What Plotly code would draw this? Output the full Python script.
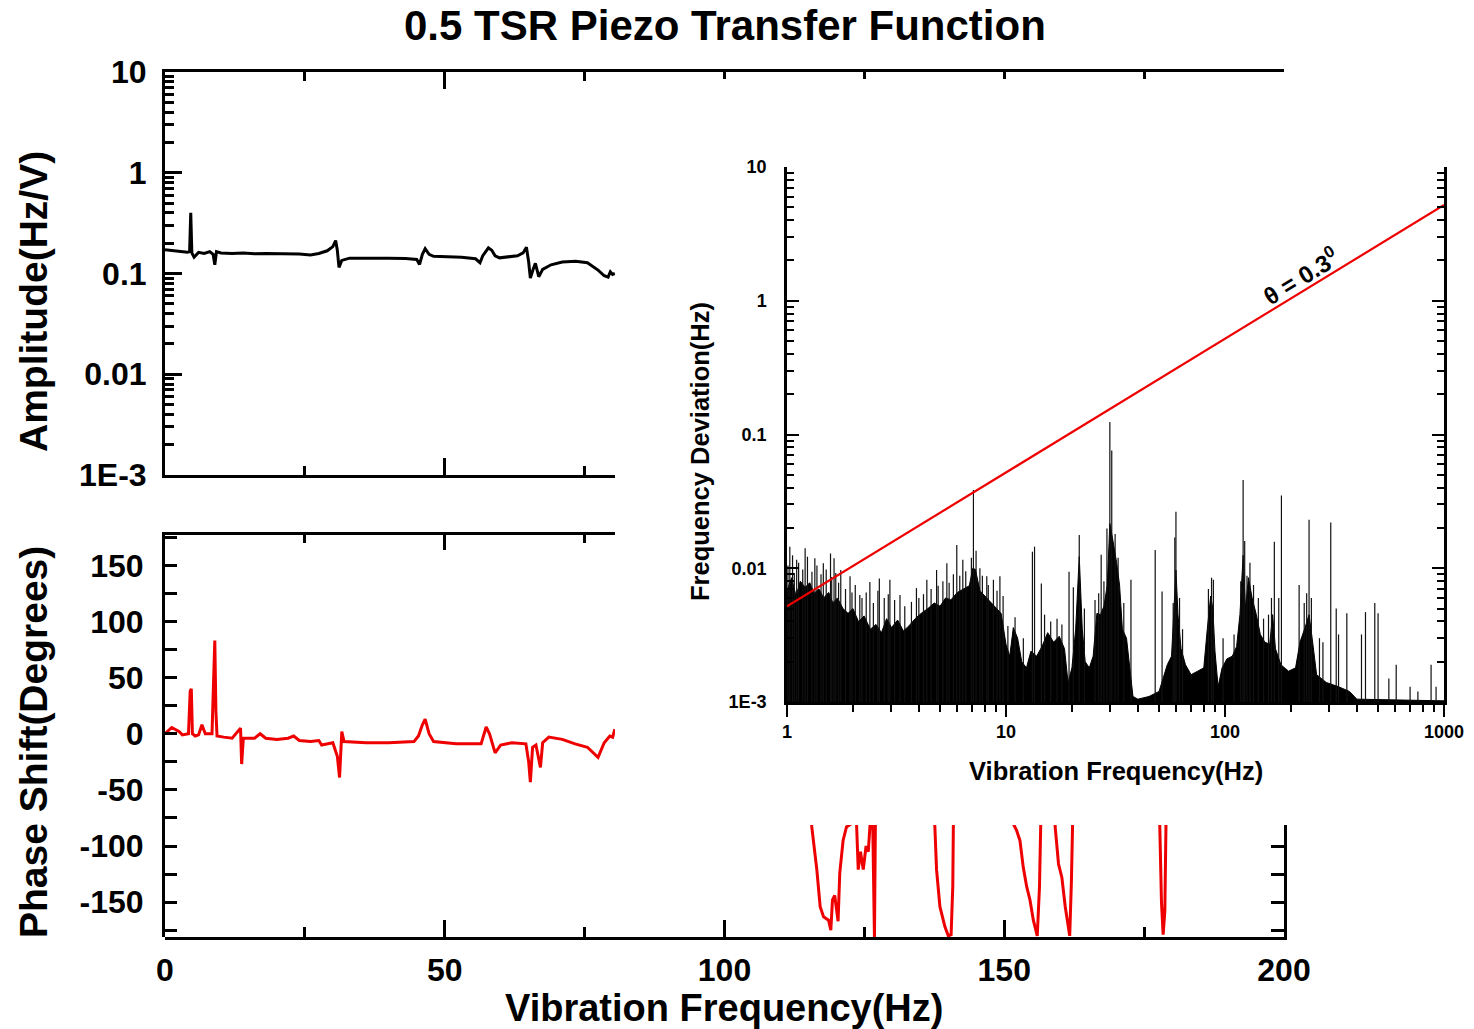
import plotly.graph_objects as go

# ---------------- data ----------------
# Amplitude of the piezo transfer function (Hz/V) vs vibration frequency (Hz)
amp_freq = [0.0, 1.0, 2.0, 3.0, 4.0, 4.4, 4.6, 4.8, 5.2, 6.0, 7.0, 8.0, 8.6, 8.9, 9.2,
            10.0, 12.0, 14.0, 16.0, 18.0, 20.0, 22.0, 24.0, 26.0, 27.5, 29.0, 30.0,
            30.5, 30.8, 31.1, 31.6, 33.0, 36.0, 40.0, 43.0, 45.0, 45.5, 46.0, 46.5,
            47.2, 48.0, 50.0, 53.0, 55.5, 56.3, 56.8, 57.8, 58.4, 59.0, 59.8, 61.0,
            63.0, 64.0, 64.6, 65.0, 65.3, 65.8, 66.2, 66.8, 67.5, 69.0, 71.0, 73.4,
            75.5, 77.4, 78.5, 79.2, 79.6, 80.0, 80.4]
amp_value = [0.172, 0.170, 0.166, 0.165, 0.163, 0.165, 0.40, 0.16, 0.145, 0.162, 0.158,
             0.165, 0.155, 0.122, 0.165, 0.160, 0.158, 0.160, 0.157, 0.158, 0.157,
             0.158, 0.156, 0.153, 0.158, 0.168, 0.185, 0.212, 0.170, 0.115, 0.135,
             0.142, 0.143, 0.142, 0.141, 0.138, 0.123, 0.155, 0.176, 0.155, 0.148,
             0.146, 0.145, 0.140, 0.128, 0.150, 0.180, 0.170, 0.150, 0.143, 0.145,
             0.150, 0.160, 0.182, 0.130, 0.090, 0.110, 0.126, 0.093, 0.110, 0.122,
             0.130, 0.132, 0.128, 0.108, 0.095, 0.092, 0.104, 0.098, 0.100]

# Phase shift (degrees), low-frequency part
phase_freq = [0.0, 1.2, 2.5, 3.1, 4.2, 4.5, 4.7, 4.9, 5.4, 6.0, 6.6, 7.2, 8.4, 8.7, 8.9,
              9.1, 9.3, 10.5, 12.0, 13.5, 13.7, 14.0, 16.0, 17.0, 18.0, 20.0, 22.0,
              23.0, 24.0, 26.0, 27.5, 28.0, 30.0, 30.8, 31.2, 31.6, 32.0, 36.0, 40.0,
              44.5, 45.3, 46.0, 46.5, 47.2, 48.0, 52.0, 56.5, 57.4, 58.0, 59.0, 60.0,
              62.0, 64.5, 65.0, 65.3, 65.7, 66.3, 67.1, 67.5, 68.6, 71.0, 73.3, 75.5,
              77.4, 78.5, 79.5, 80.0, 80.4]
phase_deg = [0, 5.6, 2, -1, 0, 38, 40, 0, -2, -1, 8, 0, 0, 60, 83,
             20, -2, -3, -4, 5, -27, -4, -4, 0, -4, -5, -4,
             -2, -6, -7, -6, -10, -8, -20, -39, 2, -7, -8, -8,
             -7, -2, 8, 13, 0, -7, -9, -9, 6, 0, -17, -10,
             -8, -9, -25, -43, -12, -10, -30, -8, -3, -5, -9, -12,
             -21, -8, -2, -3, 4]

# Phase shift (degrees), high-frequency excursions (segments separated by gaps)
phase_hf_freq = [115.3, 115.6, 116.5, 117.1, 117.7, 118.6, 119.0, 119.3, 119.7, 120.1,
                 120.3, 120.6, 121.2, 121.8, 122.7, 123.6, 123.9, 124.3, 124.8, 125.3,
                 125.7, 126.0, 126.5, 126.8, 127.0, None,
                 137.3, 137.6, 137.9, 138.5, 139.4, 140.0, 140.5, 140.8, 140.9, 141.0, None,
                 150.0, 150.4, 151.6, 152.2, 152.8, 153.4, 154.0, 154.6, 155.2, 155.5,
                 155.9, 156.3, 156.5, 156.6, None,
                 158.9, 159.1, 159.7, 160.3, 160.9, 161.3, 161.7, 162.0, 162.2, 162.3, None,
                 177.7, 177.8, 178.1, 178.4, 178.7, 178.9, 178.9]
phase_hf_deg = [-60, -83, -121, -154, -163, -166, -175, -148, -144, -162,
                -167, -124, -95, -83, -80, -80, -121, -105, -121, -100,
                -105, -82, -82, -181, -60, None,
                -60, -83, -121, -154, -172, -180, -179, -136, -83, -60, None,
                -60, -78, -80, -86, -95, -119, -136, -148, -166, -172,
                -180, -136, -83, -60, None,
                -60, -83, -116, -128, -154, -166, -180, -132, -83, -60, None,
                -60, -83, -150, -179, -158, -83, -60]

# Frequency deviation spectrum: dense noise floor (upper edge) ...
noise_freq = [1.00, 1.05, 1.10, 1.15, 1.21, 1.27, 1.33, 1.40, 1.47, 1.55, 1.62, 1.70,
              1.80, 1.90, 2.00, 2.12, 2.25, 2.40, 2.55, 2.70, 2.85, 3.00, 3.20, 3.40,
              3.60, 3.85, 4.10, 4.40, 4.70, 5.00, 5.30, 5.60, 6.00, 6.40, 6.80, 7.05,
              7.25, 7.6, 8.0, 8.5, 9.0, 9.5, 10.0, 10.4, 10.8, 11.3, 11.8, 12.4, 13.0,
              13.8, 14.6, 15.5, 16.5, 17.5, 18.5, 19.2, 20.0, 20.8, 21.6, 22.3, 23.0,
              24.0, 25.0, 26.0, 27.0, 28.0, 29.0, 29.8, 30.8, 32.0, 33.0, 34.0, 35.5,
              37.0, 38.0, 40.0, 45.0, 50.0, 52.0, 54.5, 57.0, 58.5, 59.7, 61.0, 63.0,
              66.0, 70.0, 75.0, 80.0, 83.0, 86.0, 88.0, 90.0, 93.0, 97.0, 102.0,
              108.0, 113.0, 117.0, 121.0, 124.0, 128.0, 133.0, 139.0, 145.0, 152.0,
              160.0, 165.0, 170.0, 180.0, 195.0, 210.0, 220.0, 232.0, 242.0, 250.0,
              262.0, 290.0, 330.0, 370.0, 400.0, 1000.0]
noise_level = [0.0068, 0.0085, 0.0062, 0.0080, 0.0072, 0.0078, 0.0065, 0.0070, 0.0060,
               0.0066, 0.0055, 0.0060, 0.0050, 0.0046, 0.0050, 0.0040, 0.0044, 0.0035,
               0.0038, 0.0033, 0.0042, 0.0036, 0.0041, 0.0034, 0.0037, 0.0042, 0.0046,
               0.0050, 0.0055, 0.0052, 0.0060, 0.0058, 0.0066, 0.0070, 0.0074, 0.0100,
               0.0098, 0.0068, 0.0062, 0.0056, 0.0050, 0.0046, 0.0027, 0.0022, 0.0036,
               0.0030, 0.0020, 0.0018, 0.0024, 0.0022, 0.0026, 0.0033, 0.0028, 0.0031,
               0.0025, 0.0014, 0.0018, 0.0035, 0.0122, 0.0035, 0.0020, 0.0018, 0.0022,
               0.0046, 0.0045, 0.0052, 0.0075, 0.0216, 0.0160, 0.0110, 0.0075, 0.0035,
               0.0030, 0.0016, 0.0011, 0.00105, 0.0011, 0.0012, 0.0015, 0.0019, 0.0022,
               0.0045, 0.0097, 0.0045, 0.0025, 0.0019, 0.0016, 0.0017, 0.0018, 0.0035,
               0.0062, 0.0050, 0.0024, 0.0013, 0.0018, 0.0021, 0.0022, 0.0026, 0.0045,
               0.0125, 0.0050, 0.0085, 0.0060, 0.0045, 0.0032, 0.0028, 0.0027, 0.0045,
               0.0025, 0.0019, 0.0017, 0.0018, 0.0028, 0.0036, 0.0045, 0.0030, 0.0016,
               0.0014, 0.0013, 0.0012, 0.00105, 0.00102]

# ... and individual spectral lines rising above it
spike_freq = [1.01, 1.03, 1.06, 1.08, 1.107, 1.13, 1.18, 1.21, 1.24, 1.30, 1.34, 1.37,
              1.43, 1.465, 1.51, 1.58, 1.60, 1.64, 1.67, 1.72, 1.76, 1.85, 1.94, 1.98,
              2.05, 2.15, 2.20, 2.30, 2.39, 2.48, 2.60, 2.64, 2.78, 2.90, 2.95, 3.10,
              3.28, 3.45, 3.70, 3.9, 4.00, 4.20, 4.35, 4.55, 4.82, 4.90, 5.15, 5.37,
              5.50, 5.75, 5.96, 6.15, 6.35, 6.55, 6.95, 7.1, 7.3, 7.6, 7.8, 8.17, 8.3,
              8.76, 9.1, 9.38, 9.7, 10.2, 11.0, 12.0, 13.2, 13.5, 14.5, 15.0, 16.0,
              17.1, 18.0, 19.4, 20.3, 21.6, 22.8, 25.5, 26.5, 27.2, 28.0, 28.9, 29.8,
              30.4, 31.5, 32.5, 34.5, 37.2, 48.0, 51.6, 58.0, 59.0, 59.7, 62.0, 64.0,
              84.0, 86.8, 88.5, 98.0, 110.0, 118.0, 121.0, 123.0, 126.0, 130.0, 135.0,
              142.0, 150.0, 158.0, 163.0, 168.0, 176.0, 181.0, 218.0, 230.0, 236.0,
              242.0, 248.0, 270.0, 280.0, 304.0, 322.0, 330.0, 360.0, 420.0, 438.0,
              483.0, 500.0, 560.0, 605.0, 700.0, 760.0, 873.0, 920.0]
spike_level = [0.0105, 0.0145, 0.0125, 0.0092, 0.0116, 0.0110, 0.0098, 0.0141, 0.0122,
               0.0094, 0.0119, 0.0105, 0.0090, 0.0109, 0.0098, 0.0129, 0.0086, 0.0119,
               0.0092, 0.0078, 0.0097, 0.0070, 0.0087, 0.0066, 0.0075, 0.0063, 0.0060,
               0.0066, 0.0079, 0.0055, 0.0068, 0.0084, 0.0060, 0.0064, 0.0082, 0.0058,
               0.0063, 0.0052, 0.0056, 0.0071, 0.0060, 0.0064, 0.0082, 0.0070, 0.0097,
               0.0074, 0.0080, 0.0109, 0.0078, 0.0090, 0.0149, 0.0088, 0.0116, 0.0095,
               0.0120, 0.0385, 0.0135, 0.0100, 0.0088, 0.0087, 0.0075, 0.0082, 0.0068,
               0.0087, 0.0062, 0.0037, 0.0043, 0.0030, 0.0133, 0.0145, 0.0077, 0.0045,
               0.0040, 0.0042, 0.0038, 0.0094, 0.0072, 0.0177, 0.0050, 0.0058, 0.0065,
               0.0126, 0.0080, 0.0198, 0.124, 0.076, 0.0180, 0.0120, 0.0055, 0.0082,
               0.0137, 0.0067, 0.0055, 0.0170, 0.0265, 0.0060, 0.0035, 0.0070, 0.0085,
               0.0082, 0.0030, 0.0032, 0.0080, 0.0456, 0.0160, 0.0088, 0.0110, 0.0075,
               0.0060, 0.0042, 0.0045, 0.0060, 0.0158, 0.0060, 0.0350, 0.0075, 0.0055,
               0.0065, 0.0230, 0.0060, 0.0030, 0.0028, 0.0220, 0.0050, 0.0032, 0.0046,
               0.0032, 0.0047, 0.0055, 0.0046, 0.0015, 0.0019, 0.0013, 0.0012, 0.0019,
               0.0013]

# theta = 0.3 degree limit line
limit_freq = [1, 1000]
limit_dev = [0.0052, 5.2]

amp_ticks = [0.001, 0.01, 0.1, 1, 10]
amp_ticktext = ["1E-3", "0.01", "0.1", "1", "10"]
dev_ticktext = ["1E-3", "0.01", "0.1", "1", "10"]
freq_ticks = [0, 50, 100, 150, 200]
freq_ticktext = ["0", "50", "100", "150", "200"]
phase_ticks = [-150, -100, -50, 0, 50, 100, 150]
phase_ticktext = ["-150", "-100", "-50", "0", "50", "100", "150"]
inset_freq_ticks = [1, 10, 100, 1000]
inset_freq_ticktext = ["1", "10", "100", "1000"]

# ---------------- layout helpers ----------------
W, H = 1474, 1029


def fx(p):
    return p / W


def fy(p):
    return 1 - p / H


X0, X1 = 165, 1284          # main frequency axis, 0 .. 200 Hz
X_CUT = 615                 # where the inset begins
F_CUT = (X_CUT - X0) / (X1 - X0) * 200
PH_LO, PH_HI = -181, 177    # phase axis range
PH_TOP, PH_BOT = 535, 937
STRIP_TOP = 825
PH_STRIP_HI = PH_LO + (PH_BOT - STRIP_TOP) * (PH_HI - PH_LO) / (PH_BOT - PH_TOP)

log_minor = [k * 10 ** n for n in range(-3, 1) for k in range(2, 10)]
inset_x_minor = [k * 10 ** n for n in range(0, 3) for k in range(2, 10)]

MAIN_FONT = "Liberation Sans"
INSET_FONT = "Liberation Sans"
RED = "#ee0000"

fig = go.Figure()

fig.add_trace(go.Scatter(x=amp_freq, y=amp_value, xaxis="x", yaxis="y", mode="lines",
                         line=dict(color="black", width=3)))
fig.add_trace(go.Scatter(x=phase_freq, y=phase_deg, xaxis="x2", yaxis="y2", mode="lines",
                         line=dict(color=RED, width=3)))
fig.add_trace(go.Scatter(x=phase_hf_freq, y=phase_hf_deg, xaxis="x3", yaxis="y3",
                         mode="lines", connectgaps=False, line=dict(color=RED, width=3)))
fig.add_trace(go.Scatter(x=[], y=[], xaxis="x4", yaxis="y4"))

# inset: noise floor as a filled band down to the axis floor
band_x = noise_freq + noise_freq[::-1]
band_y = noise_level + [0.001] * len(noise_freq)
fig.add_trace(go.Scatter(x=band_x, y=band_y, xaxis="x5", yaxis="y5", mode="lines",
                         fill="toself", fillcolor="black",
                         line=dict(color="black", width=1)))
sx, sy = [], []
for f, v in zip(spike_freq, spike_level):
    sx += [f, f, None]
    sy += [0.001, v, None]
fig.add_trace(go.Scatter(x=sx, y=sy, xaxis="x5", yaxis="y5", mode="lines",
                         line=dict(color="#111", width=1.2)))
fig.add_trace(go.Scatter(x=limit_freq, y=limit_dev, xaxis="x5", yaxis="y5", mode="lines",
                         line=dict(color=RED, width=2.2)))

main_tick_font = dict(family=MAIN_FONT, size=32, color="black", weight="bold")
inset_tick_font = dict(family=INSET_FONT, size=18, color="black", weight="bold")
common = dict(showgrid=False, zeroline=False, linecolor="black", tickcolor="black",
              automargin=False)

layout = dict(
    template="none",
    width=W, height=H, autosize=False,
    margin=dict(l=0, r=0, t=0, b=0, pad=0),
    paper_bgcolor="white", plot_bgcolor="rgba(0,0,0,0)",
    showlegend=False,
    # amplitude panel (visible part)
    xaxis=dict(domain=[fx(X0), fx(X_CUT)], range=[0, F_CUT], anchor="y", side="bottom",
               showline=True, linewidth=3, mirror="ticks", ticks="inside",
               tickmode="array", tickvals=[50], ticklen=17, tickwidth=3,
               minor=dict(tickmode="array", tickvals=[25, 75], ticks="inside",
                          ticklen=9, tickwidth=3, tickcolor="black"),
               showticklabels=False, **common),
    yaxis=dict(domain=[fy(475), fy(72)], type="log", range=[-3, 1], anchor="x",
               showline=True, linewidth=3, ticks="inside", tickmode="array",
               tickvals=amp_ticks, ticktext=amp_ticktext, ticklen=17, tickwidth=3,
               minor=dict(tickmode="array", tickvals=log_minor, ticks="inside",
                          ticklen=9, tickwidth=3, tickcolor="black"),
               tickfont=main_tick_font, ticklabelstandoff=9, **common),
    # phase panel (visible part)
    xaxis2=dict(domain=[fx(X0), fx(X_CUT)], range=[0, F_CUT], anchor="y2", side="top",
                showline=True, linewidth=3, ticks="inside", tickmode="array",
                tickvals=[50], ticklen=15, tickwidth=3,
                minor=dict(tickmode="array", tickvals=[25, 75], ticks="inside",
                           ticklen=8, tickwidth=3, tickcolor="black"),
                showticklabels=False, **common),
    yaxis2=dict(domain=[fy(PH_BOT), fy(PH_TOP)], range=[PH_LO, PH_HI], anchor="x2",
                showline=True, linewidth=3, ticks="inside", tickmode="array",
                tickvals=phase_ticks, ticktext=phase_ticktext, ticklen=12, tickwidth=3,
                minor=dict(tickmode="array", tickvals=list(range(-175, 180, 50)),
                           ticks="inside", ticklen=12, tickwidth=3, tickcolor="black"),
                tickfont=main_tick_font, ticklabelstandoff=12, **common),
    # bottom strip of the phase panel with the frequency axis
    xaxis3=dict(domain=[fx(X0), fx(X1)], range=[0, 200], anchor="y3", side="bottom",
                showline=True, linewidth=3, ticks="inside", tickmode="array",
                tickvals=freq_ticks, ticktext=freq_ticktext, ticklen=17, tickwidth=3,
                minor=dict(tickmode="array", tickvals=[25, 75, 125, 175], ticks="inside",
                           ticklen=10, tickwidth=3, tickcolor="black"),
                tickfont=main_tick_font, ticklabelstandoff=3, **common),
    yaxis3=dict(domain=[fy(PH_BOT), fy(STRIP_TOP)], range=[PH_LO, PH_STRIP_HI],
                anchor="x3", side="right", showline=True, linewidth=3, ticks="inside",
                tickmode="array", tickvals=[-175, -150, -125, -100], ticklen=13,
                tickwidth=3, showticklabels=False, **common),
    # full-width top frame of the amplitude panel
    xaxis4=dict(domain=[fx(X0), fx(X1)], range=[0, 200], anchor="y4", side="top",
                showline=True, linewidth=3, ticks="inside", tickmode="array",
                tickvals=[25, 50, 75, 100, 125, 150, 175], ticklen=7, tickwidth=3,
                showticklabels=False, **common),
    yaxis4=dict(domain=[fy(475), fy(72)], range=[0, 1], anchor="x4", visible=False,
                automargin=False),
    # inset: frequency deviation spectrum
    xaxis5=dict(domain=[fx(787), fx(1444)], type="log", range=[0, 3], anchor="y5",
                side="bottom", showline=True, linewidth=2.5, ticks="outside",
                tickmode="array", tickvals=inset_freq_ticks,
                ticktext=inset_freq_ticktext, ticklen=12, tickwidth=2,
                minor=dict(tickmode="array", tickvals=inset_x_minor, ticks="outside",
                           ticklen=7, tickwidth=2, tickcolor="black"),
                tickfont=inset_tick_font, ticklabelstandoff=0, **common),
    xaxis6=dict(type="log", range=[0, 3], overlaying="x5", anchor="y5", side="top",
                showline=True, linewidth=2.5, ticks="inside", tickmode="array",
                tickvals=inset_freq_ticks, ticklen=12, tickwidth=2,
                minor=dict(tickmode="array", tickvals=inset_x_minor, ticks="inside",
                           ticklen=7, tickwidth=2, tickcolor="black"),
                showticklabels=False, **common),
    yaxis5=dict(domain=[fy(702), fy(167)], type="log", range=[-3, 1], anchor="x5",
                showline=True, linewidth=2.5, mirror="ticks", ticks="inside",
                tickmode="array", tickvals=amp_ticks, ticktext=dev_ticktext,
                ticklen=12, tickwidth=2,
                minor=dict(tickmode="array", tickvals=log_minor, ticks="inside",
                           ticklen=7, tickwidth=2, tickcolor="black"),
                tickfont=inset_tick_font, ticklabelstandoff=14, **common),
)


def label(text, x, y, size, family=MAIN_FONT, angle=0):
    return dict(text=text, x=fx(x), y=fy(y), xref="paper", yref="paper",
                showarrow=False, textangle=angle, xanchor="center", yanchor="middle",
                font=dict(family=family, size=size, color="black", weight="bold"))


layout["annotations"] = [
    label("0.5 TSR Piezo Transfer Function", 725, 26, 42),
    label("Amplitude(Hz/V)", 33, 302, 39, angle=-90),
    label("Phase Shift(Degrees)", 33, 742, 39, angle=-90),
    label("Vibration Frequency(Hz)", 724, 1008, 38),
    label("Frequency Deviation(Hz)", 700, 452, 25.5, family=INSET_FONT, angle=-90),
    label("Vibration Frequency(Hz)", 1116, 771, 25.5, family=INSET_FONT),
    label("\u03b8 = 0.3<sup>0</sup>", 1300, 276, 24, family=INSET_FONT, angle=-31.4),
]

fig.update_layout(**layout)
fig.write_html("out.html")
